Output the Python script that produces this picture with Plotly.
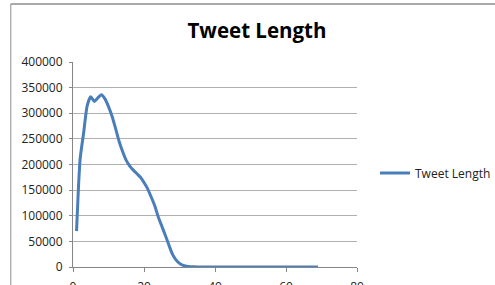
import plotly.graph_objects as go

tweet_len = list(range(1, 70))
counts_head = [70000, 210000, 262000, 315000, 332000, 323000, 330000, 336000, 328000, 313000,
               294000, 270000, 245000, 225000, 208000, 197000, 189000, 182000, 175000, 165000,
               153000, 137000, 120000, 98000, 80000, 62000, 43000, 25000, 14000, 7000,
               3000, 1500, 700, 300, 150]
counts_tail = [80, 50, 30, 20, 15, 10, 8, 6, 5, 4, 3, 3, 2, 2, 2, 1, 1, 1, 1, 1,
               1, 1, 1, 1, 1, 1, 1, 1, 1, 1, 1, 1, 1, 1]
counts = counts_head + counts_tail

x_ticks = [0, 20, 40, 60, 80]
y_ticks = [0, 50000, 100000, 150000, 200000, 250000, 300000, 350000, 400000]

W, H = 495, 285
L, R, T, B = 72.7, 356.7, 62.3, 266.7

fig = go.Figure()
fig.add_trace(go.Scatter(
    x=tweet_len[:len(counts)], y=counts, mode="lines", name="Tweet Length",
    line=dict(color="#4A7EBB", width=3, shape="spline", smoothing=0.6),
))

font_fam = "Open Sans, Liberation Sans, sans-serif"
fig.update_layout(
    width=W, height=H, autosize=False,
    margin=dict(l=L, r=W - R, t=T, b=H - B, pad=0, autoexpand=False),
    paper_bgcolor="white", plot_bgcolor="white",
    title=dict(text="<b>Tweet Length</b>", x=257 / W, xanchor="center",
               y=1 - 31 / H, yanchor="middle", automargin=False,
               font=dict(family=font_fam, size=20.5, color="black")),
    showlegend=True,
    legend=dict(xref="container", yref="container", x=375 / W, xanchor="left",
                y=1 - 173 / H, yanchor="middle",
                font=dict(family=font_fam, size=12, color="#222"),
                itemwidth=30, bgcolor="rgba(0,0,0,0)", tracegroupgap=0),
    xaxis=dict(range=[0, 80], tickvals=x_ticks, ticks="outside", ticklen=4,
               tickcolor="#868686", showline=True, linecolor="#868686", linewidth=1,
               showgrid=False, zeroline=False, automargin=False, ticklabelstandoff=5,
               tickfont=dict(family=font_fam, size=12, color="#222")),
    yaxis=dict(range=[0, 400000], tickvals=y_ticks, ticks="outside", ticklen=3,
               tickcolor="#868686", showline=True, linecolor="#868686", linewidth=1,
               showgrid=True, gridcolor="#B0B0B0", gridwidth=1.3, zeroline=False,
               tickformat="d", automargin=False, ticklabelstandoff=4,
               tickfont=dict(family=font_fam, size=12, color="#222")),
    shapes=[
        dict(type="line", xref="paper", yref="paper",
             x0=(10.5 - L) / (R - L), x1=(10.5 - L) / (R - L), y0=(B - 4.5) / (B - T),
             y1=(B - H) / (B - T), line=dict(color="#8C8C8C", width=1)),
        dict(type="line", xref="paper", yref="paper",
             x0=(10.5 - L) / (R - L), x1=(W - L) / (R - L),
             y0=(B - 4.5) / (B - T), y1=(B - 4.5) / (B - T),
             line=dict(color="#8C8C8C", width=1.5)),
    ],
)

fig.write_html("out.html", config={"displayModeBar": False},
               post_script="document.body.style.margin='0';")
